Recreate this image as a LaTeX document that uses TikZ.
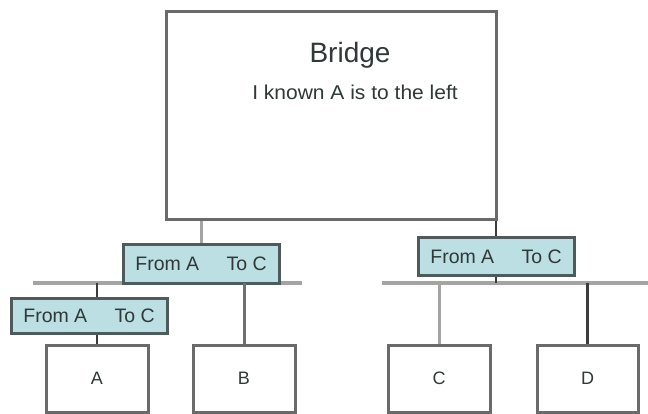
\documentclass[tikz,border=0pt]{standalone}
\usepackage{fontspec}
\setmainfont{Liberation Sans}
\definecolor{boxline}{HTML}{6A6A6A}
\definecolor{tagfill}{HTML}{BCDFE3}
\definecolor{tagline}{HTML}{4F5A5A}
\definecolor{busgray}{HTML}{A4A4A4}
\definecolor{darkline}{HTML}{3C3C3C}
\definecolor{midline}{HTML}{707070}
\definecolor{txt}{HTML}{303838}
\tikzset{
  plainbox/.style={draw=boxline, line width=3pt, fill=white, rectangle, inner sep=0pt},
  tagbox/.style={draw=tagline, line width=3pt, fill=tagfill, rectangle, inner sep=0pt,
    minimum width=156pt, font=\fontsize{19.5}{21}\selectfont, text=txt},
  bus/.style={draw=busgray, line width=4pt},
  lightconn/.style={draw=busgray, line width=3pt},
  darkconn/.style={draw=darkline, line width=2.5pt},
  midconn/.style={draw=midline, line width=3pt},
  letter/.style={font=\fontsize{18}{20}\selectfont, text=txt}
}
\begin{document}
\begin{tikzpicture}[x=1pt,y=-1pt]
\useasboundingbox (0,0) rectangle (648,414);
% buses
\coordinate (lbusL) at (33,283);
\coordinate (lbusR) at (302,283);
\coordinate (rbusL) at (382,283);
\coordinate (rbusR) at (648,283);
\draw[bus] (lbusL) -- (lbusR);
\draw[bus] (rbusL) -- (rbusR);
% bridge box
\node[plainbox, minimum width=330pt, minimum height=208pt] (bridge) at (331,116) {};
\node[font=\fontsize{28}{30}\selectfont, text=txt] (title) at (350,55) {Bridge};
\node[font=\fontsize{20}{22}\selectfont, text=txt, xscale=1.05] (sub) at (355,92) {I known A is to the left};
% tags
\node[tagbox, minimum height=38pt] (lbr) at (201,264) {From A\hspace{1.4em}To C};
\node[tagbox, minimum height=37pt] (rbr) at (496,256.5) {From A\hspace{1.4em}To C};
\node[tagbox, minimum height=35pt] (lbr2) at (89,315.5) {From A\hspace{1.4em}To C};
% leaf boxes
\node[plainbox, minimum width=102pt, minimum height=67pt, letter] (A) at (97,378.5) {A};
\node[plainbox, minimum width=102pt, minimum height=67pt, letter] (B) at (244,378.5) {B};
\node[plainbox, minimum width=102pt, minimum height=67pt, letter] (C) at (439,378.5) {C};
\node[plainbox, minimum width=101pt, minimum height=67pt, letter] (D) at (587.5,378.5) {D};
% connectors
\draw[lightconn] (bridge.south -| lbr.north) -- (lbr.north);
\draw[darkconn] (bridge.south -| rbr.north) -- (rbr.north);
\draw[darkconn] (rbr.south) -- (rbr.south |- rbusL);
\draw[darkconn] (lbusL -| A.north) -- (lbr2.north -| A.north);
\draw[darkconn] (lbr2.south -| A.north) -- (A.north);
\draw[midconn] (lbusL -| B.north) -- (B.north);
\draw[lightconn] (rbusL -| C.north) -- (C.north);
\draw[darkconn] (rbusL -| D.north) -- (D.north);
\end{tikzpicture}
\end{document}
